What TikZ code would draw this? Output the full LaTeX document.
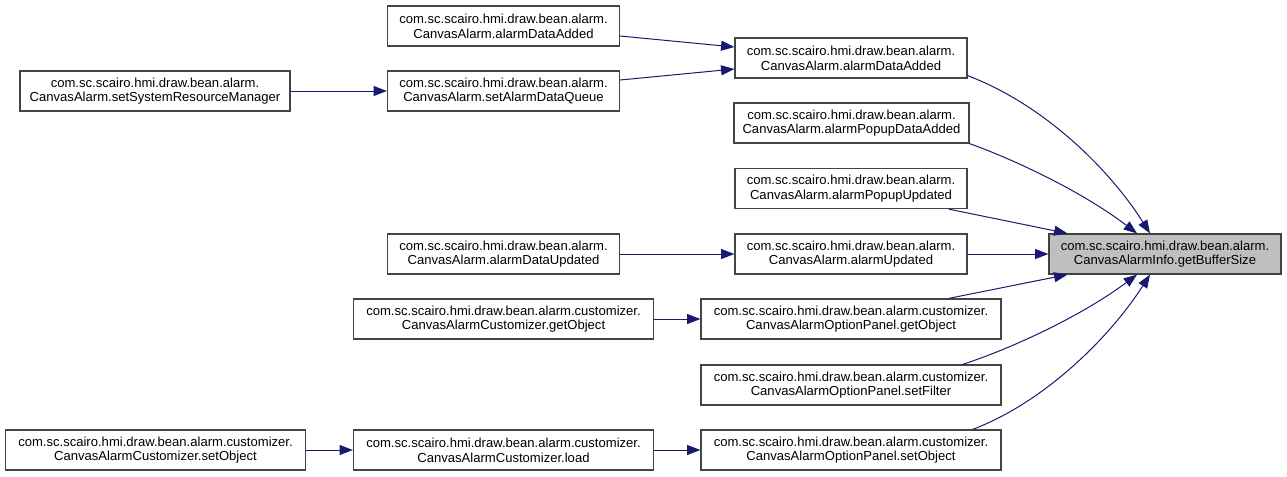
\documentclass[tikz,border=0pt]{standalone}
\usepackage{fontspec}
\setmainfont{Liberation Sans}
\usetikzlibrary{arrows.meta,calc}
\definecolor{edgeblue}{HTML}{191970}
\definecolor{boxgray}{HTML}{444444}
\definecolor{rootfill}{HTML}{BFBFBF}
\tikzset{
  fn/.style={draw=boxgray, line width=0.9pt, fill=white, inner sep=0pt, align=center,
    minimum height=30pt, font=\fontsize{9.8pt}{11pt}\selectfont},
  nw/.style={fn, minimum width=174pt},
  ww/.style={fn, minimum width=225pt},
  rootbox/.style={fn, draw=black!75, fill=rootfill, minimum width=174pt},
  call/.style={draw=edgeblue, line width=0.75pt, -{Triangle[length=10pt,width=7.5pt]}},
}
\begin{document}
\begin{tikzpicture}[x=0.75pt,y=-0.75pt]
\useasboundingbox (0,0) rectangle (1287,476);
% target
\node[rootbox] (tgt) at (1165,254) {com.sc.scairo.hmi.draw.bean.alarm.\\CanvasAlarmInfo.getBufferSize};
% middle column
\node[nw] (mAdd) at (851,58) {com.sc.scairo.hmi.draw.bean.alarm.\\CanvasAlarm.alarmDataAdded};
\node[fn, minimum width=176.25pt] (popAdd) at (851.5,123) {com.sc.scairo.hmi.draw.bean.alarm.\\CanvasAlarm.alarmPopupDataAdded};
\node[nw] (popUpd) at (851,188.5) {com.sc.scairo.hmi.draw.bean.alarm.\\CanvasAlarm.alarmPopupUpdated};
\node[nw] (aUpd) at (851,254) {com.sc.scairo.hmi.draw.bean.alarm.\\CanvasAlarm.alarmUpdated};
\node[ww] (opGet) at (851,319) {com.sc.scairo.hmi.draw.bean.alarm.customizer.\\CanvasAlarmOptionPanel.getObject};
\node[ww] (opFilt) at (851,385) {com.sc.scairo.hmi.draw.bean.alarm.customizer.\\CanvasAlarmOptionPanel.setFilter};
\node[ww] (opSet) at (851,450) {com.sc.scairo.hmi.draw.bean.alarm.customizer.\\CanvasAlarmOptionPanel.setObject};
% left columns
\node[nw] (lAdd) at (503.5,26) {com.sc.scairo.hmi.draw.bean.alarm.\\CanvasAlarm.alarmDataAdded};
\node[nw] (setQ) at (503.5,91) {com.sc.scairo.hmi.draw.bean.alarm.\\CanvasAlarm.setAlarmDataQueue};
\node[fn, minimum width=202.5pt] (setSRM) at (155,91) {com.sc.scairo.hmi.draw.bean.alarm.\\CanvasAlarm.setSystemResourceManager};
\node[nw] (dUpd) at (503.5,254) {com.sc.scairo.hmi.draw.bean.alarm.\\CanvasAlarm.alarmDataUpdated};
\node[ww] (cGet) at (503.5,319) {com.sc.scairo.hmi.draw.bean.alarm.customizer.\\CanvasAlarmCustomizer.getObject};
\node[ww] (cLoad) at (503.5,450) {com.sc.scairo.hmi.draw.bean.alarm.customizer.\\CanvasAlarmCustomizer.load};
\node[ww] (cSet) at (155.5,450) {com.sc.scairo.hmi.draw.bean.alarm.customizer.\\CanvasAlarmCustomizer.setObject};
% edges
\draw[call] ($(lAdd.east)+(0,10)$) -- ($(mAdd.west)+(0,-11)$);
\draw[call] ($(setQ.east)+(0,-11)$) -- ($(mAdd.west)+(0,11)$);
\draw[call] (setSRM.east) -- (setQ.west);
\draw[call] ($(mAdd.south east)+(0,-3)$) .. controls (1045,105) and (1110,170) .. ($(tgt.north)+(-15,0)$);
\draw[call] (popAdd.south east) .. controls (1010,158) and (1080,190) .. ($(tgt.north)+(-28,0)$);
\draw[call] ($(popUpd.south east)+(-19,0)$) -- ($(tgt.north west)+(19,0)$);
\draw[call] (dUpd.east) -- (aUpd.west);
\draw[call] (aUpd.east) -- (tgt.west);
\draw[call] (cGet.east) -- (opGet.west);
\draw[call] ($(opGet.north east)+(-53,0)$) -- ($(tgt.south west)+(19,0)$);
\draw[call] ($(opFilt.north east)+(-39,0)$) .. controls (1010,349) and (1080,317) .. ($(tgt.south)+(-28,0)$);
\draw[call] ($(opSet.north east)+(-29,0)$) .. controls (1045,402) and (1110,337) .. ($(tgt.south)+(-15,0)$);
\draw[call] (cSet.east) -- (cLoad.west);
\draw[call] (cLoad.east) -- (opSet.west);
\end{tikzpicture}
\end{document}
